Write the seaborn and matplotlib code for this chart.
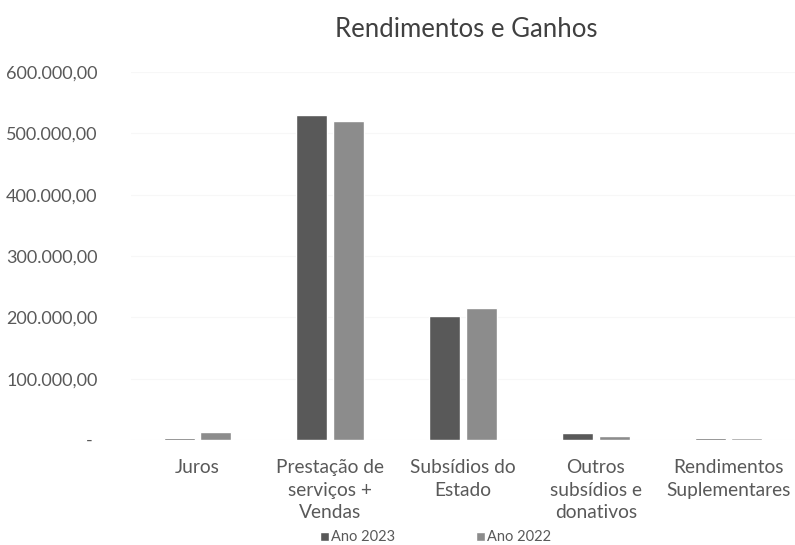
import matplotlib
matplotlib.use("Agg")
import matplotlib.pyplot as plt
import matplotlib.ticker as mticker
import seaborn as sns
import pandas as pd

categories = ["Juros", "Prestação de\nserviços +\nVendas", "Subsídios do\nEstado",
              "Outros\nsubsídios e\ndonativos", "Rendimentos\nSuplementares"]
ano_2023 = [3000, 530000, 202000, 11000, 3500]
ano_2022 = [13000, 520000, 215000, 6000, 2500]
series = ["Ano 2023", "Ano 2022"]

df = pd.DataFrame({
    "categoria": categories * 2,
    "valor": ano_2023 + ano_2022,
    "serie": [series[0]] * len(categories) + [series[1]] * len(categories),
})

sns.set_theme(style="white")
plt.rcParams["font.family"] = ["Lato", "DejaVu Sans"]

fig = plt.figure(figsize=(7.95, 5.45), dpi=100)
ax = fig.add_axes([131 / 795, 105 / 545, 664 / 795, 368 / 545])

sns.barplot(data=df, x="categoria", y="valor", hue="serie",
            palette=["#595959", "#8c8c8c"], width=0.55, gap=0.15,
            saturation=1, ax=ax, legend=True)

ax.set_ylim(0, 600000)
ax.set_xlim(-0.5, 4.5)
ax.yaxis.set_major_locator(mticker.MultipleLocator(100000))

def fmt(v, pos):
    if v == 0:
        return "- "
    s = f"{v:,.2f}"
    return s.replace(",", "X").replace(".", ",").replace("X", ".")

ax.yaxis.set_major_formatter(mticker.FuncFormatter(fmt))
ax.grid(axis="y", color="#f7f7f7", linewidth=0.8)
ax.set_axisbelow(True)
for s in ax.spines.values():
    s.set_visible(False)
ax.tick_params(axis="y", length=0, pad=24, labelsize=13, labelcolor="#595959")
ax.tick_params(axis="x", length=0, pad=14, labelsize=13.8, labelcolor="#595959")
for lbl in ax.get_xticklabels():
    lbl.set_linespacing(1.38)
ax.set_xlabel("")
ax.set_ylabel("")

fig.text(0.587, 0.945, "Rendimentos e Ganhos", ha="center", va="center",
         fontsize=18.5, color="#404040")

handles, labels = ax.get_legend_handles_labels()
ax.legend_.remove()
fig.legend(handles, labels, loc="center", bbox_to_anchor=(0.548, 0.014), ncol=2,
           frameon=False, fontsize=10.5, handlelength=0.6, handleheight=0.6,
           handletextpad=0.2, columnspacing=5.5, labelcolor="#595959")

fig.savefig("out.png", dpi=100)
